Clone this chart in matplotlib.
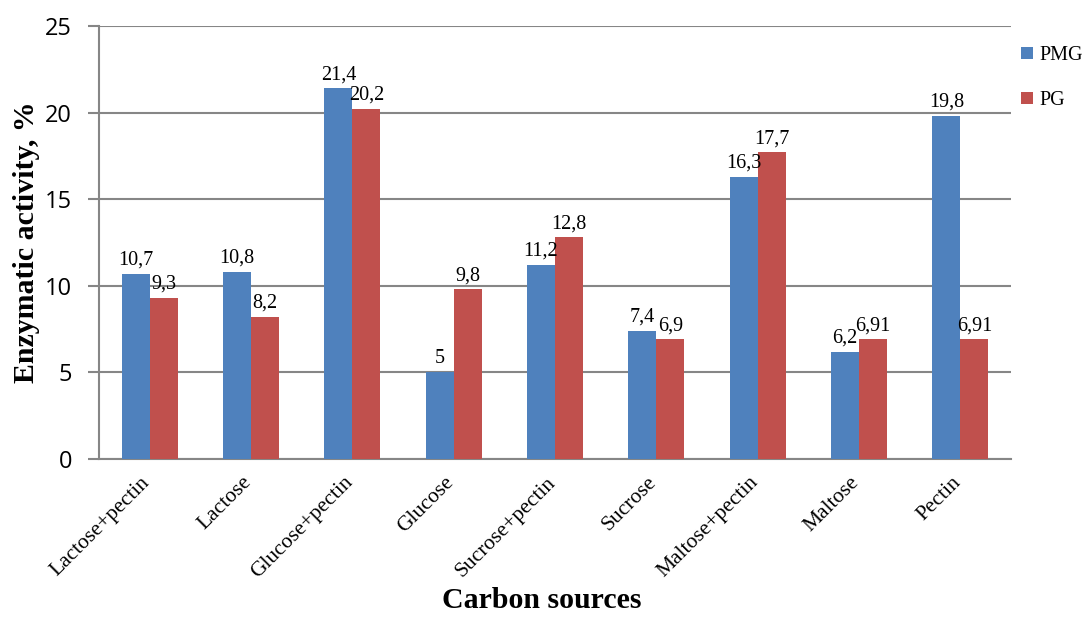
import numpy as np
import matplotlib.pyplot as plt
from matplotlib.transforms import ScaledTranslation

categories = ['Lactose+pectin', 'Lactose', 'Glucose+pectin', 'Glucose', 'Sucrose+pectin',
              'Sucrose', 'Maltose+pectin', 'Maltose', 'Pectin']
pmg = [10.7, 10.8, 21.4, 5, 11.2, 7.4, 16.3, 6.2, 19.8]
pg = [9.3, 8.2, 20.2, 9.8, 12.8, 6.9, 17.7, 6.91, 6.91]
pmg_labels = ['10,7', '10,8', '21,4', '5', '11,2', '7,4', '16,3', '6,2', '19,8']
pg_labels = ['9,3', '8,2', '20,2', '9,8', '12,8', '6,9', '17,7', '6,91', '6,91']

serif = 'Liberation Serif'
grid_col = '#868686'

fig = plt.figure(figsize=(10.86, 6.2), dpi=100)
ax = fig.add_axes([99 / 1086, 1 - 459 / 620, 912 / 1086, 433 / 620])

x = np.arange(len(categories))
w = 0.276
b1 = ax.bar(x - w / 2, pmg, w, color='#4F81BD', label='PMG', zorder=3)
b2 = ax.bar(x + w / 2, pg, w, color='#C0504D', label='PG', zorder=3)

for bars, labs in ((b1, pmg_labels), (b2, pg_labels)):
    for r, t in zip(bars, labs):
        ax.annotate(t, (r.get_x() + r.get_width() / 2, r.get_height()),
                    xytext=(0, 3), textcoords='offset points', ha='center', va='bottom',
                    fontsize=14.5, family=serif)

ax.set_xlim(-0.5, len(categories) - 0.5)
ax.set_ylim(0, 25)
ax.set_yticks(range(0, 26, 5))
ax.yaxis.grid(True, color=grid_col, linewidth=1.5, zorder=0)
ax.set_axisbelow(True)
for s in ('top', 'right'):
    ax.spines[s].set_visible(False)
for s in ('left', 'bottom'):
    ax.spines[s].set_color(grid_col)
    ax.spines[s].set_linewidth(1.5)
ax.tick_params(axis='y', length=8, width=1.5, color=grid_col, labelsize=17, pad=11.5)
ax.tick_params(axis='x', length=0, pad=8)
for lab in ax.get_yticklabels():
    lab.set_family('Open Sans')

ax.set_xticks(x)
ax.set_xticklabels(categories, rotation=45, ha='right', rotation_mode='anchor',
                   family=serif, fontsize=15.5)
# nudge the slanted category names left/down a little
shift = ScaledTranslation(-9 / 100, -3 / 100, fig.dpi_scale_trans)
for lab in ax.get_xticklabels():
    lab.set_transform(lab.get_transform() + shift)

ax.set_ylabel('Enzymatic activity, %', family=serif, fontsize=21.5, fontweight='bold')
ax.yaxis.set_label_coords(-0.0647, 0.5)
ax.set_xlabel('Carbon sources', family=serif, fontsize=21.5, fontweight='bold')
ax.xaxis.set_label_coords(0.485, -0.296)

fig.legend(handles=[b1, b2], loc='upper left', bbox_to_anchor=(1021 / 1086, 1 - 46 / 620),
           frameon=False, prop={'family': serif, 'size': 14.5}, handlelength=0.6,
           handleheight=0.6, handletextpad=0.3, labelspacing=1.3, borderpad=0,
           borderaxespad=0)

fig.savefig('out.png', dpi=100)
